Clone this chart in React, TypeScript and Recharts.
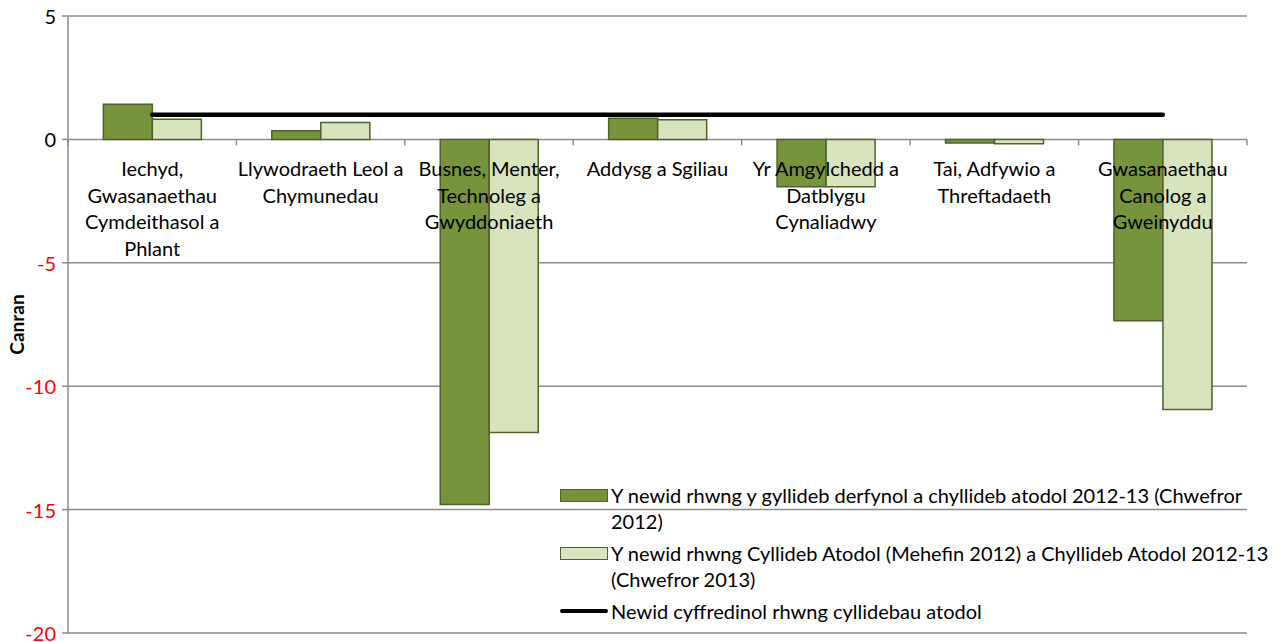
import { ComposedChart, Bar, Line, XAxis, YAxis, CartesianGrid } from "recharts"

const categories = [
  "Iechyd,\nGwasanaethau\nCymdeithasol a\nPhlant",
  "Llywodraeth Leol a\nChymunedau",
  "Busnes, Menter,\nTechnoleg a\nGwyddoniaeth",
  "Addysg a Sgiliau",
  "Yr Amgylchedd a\nDatblygu\nCynaliadwy",
  "Tai, Adfywio a\nThreftadaeth",
  "Gwasanaethau\nCanolog a\nGweinyddu",
]
const finalVsSupp = [1.42, 0.35, -14.79, 0.86, -1.92, -0.15, -7.35]
const suppVsSupp = [0.82, 0.68, -11.88, 0.8, -1.92, -0.18, -10.94]
const averageChange = [1, 1, 1, 1, 1, 1, 1]
const yTicks = [5, 0, -5, -10, -15, -20]

const seriesNames = [
  "Y newid rhwng y gyllideb derfynol a chyllideb atodol 2012-13 (Chwefror 2012)",
  "Y newid rhwng Cyllideb Atodol (Mehefin 2012) a Chyllideb Atodol 2012-13 (Chwefror 2013)",
  "Newid cyffredinol rhwng cyllidebau atodol",
]

const data = categories.map((c, i) => ({
  name: c,
  a: finalVsSupp[i],
  b: suppVsSupp[i],
  avg: averageChange[i],
}))

const W = 1280
const H = 642
const M = { top: 16, right: 33, bottom: 8, left: 0 }
const Y_W = 68
const X_H = 1
const FONT = "Lato, 'Open Sans', sans-serif"
const DARK = "#77933C"
const LIGHT = "#D7E4BD"
const EDGE = "#4F6228"
const GRID = "#8c8c8c"

const plotH = H - M.top - M.bottom - X_H
const plotW = W - M.left - M.right - Y_W
const zeroY = M.top + (plotH * 5) / 25
const band = plotW / categories.length

function CatTick(props: any) {
  const { x, payload } = props
  const lines = String(payload.value).split("\n")
  return (
    <g>
      <line x1={x + band / 2} x2={x + band / 2} y1={zeroY} y2={zeroY + 6} stroke={GRID} strokeWidth={1.5} />
      {payload.index === 0 && <line x1={x - band / 2} x2={x - band / 2} y1={zeroY} y2={zeroY + 6} stroke={GRID} strokeWidth={1.5} />}
      {lines.map((l, i) => (
        <text key={i} x={x} y={zeroY + 29 + i * 26.5} textAnchor="middle" dominantBaseline="central"
          fontFamily={FONT} fontSize={20} fill="#000">{l}</text>
      ))}
    </g>
  )
}

function ValTick(props: any) {
  const { x, y, payload } = props
  return (
    <text x={x - 4} y={y} textAnchor="end" dominantBaseline="central" fontFamily={FONT} fontSize={20}
      fill={payload.value < 0 ? "#ff0000" : "#000"}>{payload.value}</text>
  )
}

// keep "2012-13" together so the wrap lands where the reference has it
function noBreak(text: string) {
  return text.split(/(\d{4}-\d{2})/).map((part, i) =>
    /^\d{4}-\d{2}$/.test(part) ? <span key={i} style={{ whiteSpace: "nowrap" }}>{part}</span> : part
  )
}

function LegendBox() {
  const rows = [
    { kind: "bar", color: DARK, text: seriesNames[0] },
    { kind: "bar", color: LIGHT, text: seriesNames[1] },
    { kind: "line", color: "#000", text: seriesNames[2] },
  ]
  return (
    <div style={{ position: "absolute", left: 560, top: 482, fontFamily: FONT, fontSize: 20, lineHeight: "26px", color: "#000", width: 715 }}>
      {rows.map((r, i) => (
        <div key={i} style={{ display: "flex", alignItems: "flex-start", marginBottom: 6 }}>
          <div style={{ width: 51, height: 26, display: "flex", alignItems: "center", flex: "none" }}>
            {r.kind === "bar" ? (
              <div style={{ width: 46, height: 11, background: r.color, border: `1px solid ${EDGE}` }} />
            ) : (
              <div style={{ width: 48, height: 4, background: r.color, borderRadius: 2 }} />
            )}
          </div>
          <div style={{ width: 660, textAlign: "left" }}>{noBreak(r.text)}</div>
        </div>
      ))}
    </div>
  )
}

export default function App() {
  return (
    <div style={{ position: "absolute", left: 0, top: 0, width: W, height: H, background: "#fff" }}>
      <ComposedChart width={W} height={H} data={data} margin={M} barCategoryGap="21%" barGap={0}>
        <CartesianGrid vertical={false} stroke={GRID} strokeWidth={1.5} />
        <XAxis dataKey="name" height={X_H} axisLine={false} tickLine={false} tick={<CatTick />} interval={0} />
        <YAxis
          width={Y_W}
          domain={[-20, 5]}
          ticks={yTicks}
          interval={0}
          axisLine={{ stroke: GRID, strokeWidth: 1.5 }}
          tickLine={{ stroke: GRID, strokeWidth: 1.5 }}
          tickSize={6}
          tick={<ValTick />}
          label={{ value: "Canran", angle: -90, position: "insideLeft", offset: 17, style: { fontFamily: FONT, fontWeight: 700, fontSize: 19, fill: "#000", textAnchor: "middle" } }}
        />
        <Bar dataKey="a" name={seriesNames[0]} fill={DARK} stroke={EDGE} strokeWidth={1.5} isAnimationActive={false} />
        <Bar dataKey="b" name={seriesNames[1]} fill={LIGHT} stroke={EDGE} strokeWidth={1.5} isAnimationActive={false} />
        <Line dataKey="avg" name={seriesNames[2]} stroke="#000" strokeWidth={4.5} strokeLinecap="round" dot={false} activeDot={false} isAnimationActive={false} />
      </ComposedChart>
      <LegendBox />
    </div>
  )
}
